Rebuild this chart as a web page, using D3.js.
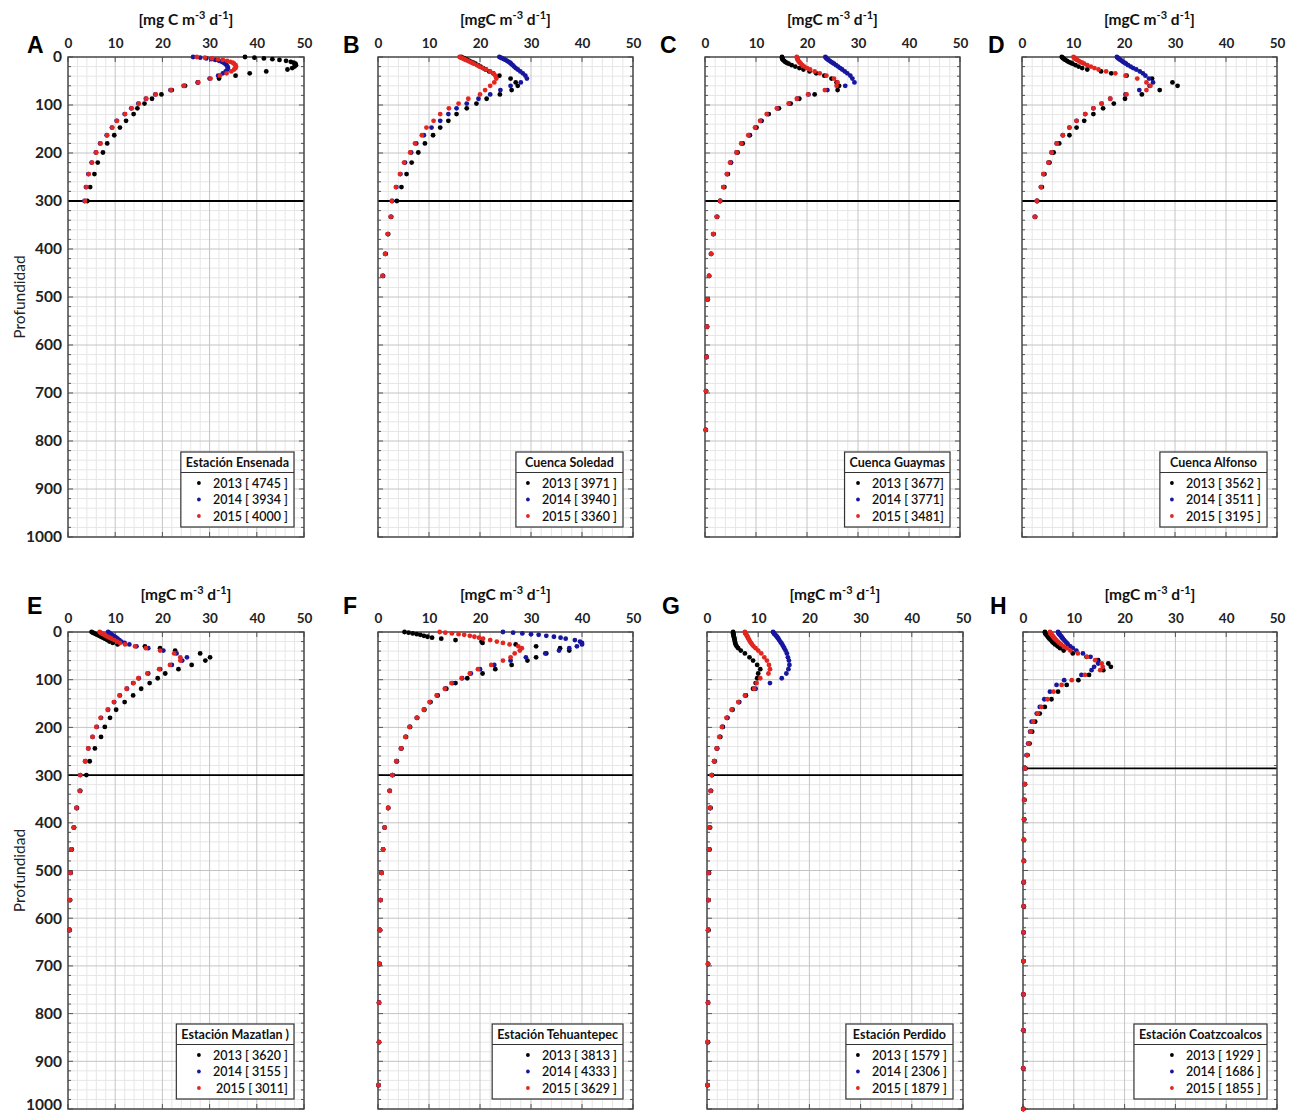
<!DOCTYPE html>
<html><head><meta charset="utf-8">
<script src="https://cdn.jsdelivr.net/npm/d3@7"></script>
<style>
body{margin:0;background:#fff;}
svg{display:block;font-family:Lato,"Open Sans",sans-serif;}
</style>
</head><body>
<svg id="chart" width="1292" height="1115"></svg>
<script>
// ---------------- DATA ----------------
const depthLevels = [0,1.5,3,4.5,6,8,10,12,14,17,20,23,26,30,34,39,45,53,60,69,78,87,97,107,119,133,147,163,180,199,220,244,271,300,333,369,410,456,505,562,625,696,777,860,950];
const depthLevelsH = [0,1.5,3,4.5,6,8,10,12,14,17,20,23,26,30,34,39,45,52,59,66,73,80,90,101,111,125,141,157,171,188,209,234,258,286,319,352,393,436,480,525,575,630,690,760,835,915,1000];

const A_2013 = [37.5,39.5,41.5,43.3,44.8,46.2,47.2,47.8,48.2,48.3,48.0,47.5,46.5,42.0,38.5,35.5,32.0,27.5,24.8,22.0,19.8,17.8,16.2,14.7,13.9,12.3,11.0,9.8,8.3,7.4,6.3,5.6,4.7,4.1];
const A_2014 = [26.5,28.0,29.3,30.4,31.2,32.0,32.6,33.0,33.3,33.6,33.8,33.9,33.8,33.4,32.8,31.8,30.0,27.5,24.5,21.7,18.5,16.5,14.9,13.4,12.0,10.3,9.3,8.2,6.8,5.9,5.0,4.3,3.8,3.5];
const A_2015 = [27.3,29.0,30.5,31.8,32.8,33.7,34.4,34.9,35.2,35.5,35.6,35.5,35.2,34.6,33.6,32.2,30.2,27.6,24.6,21.8,18.6,16.6,15.0,13.5,12.1,10.4,9.4,8.3,6.9,6.0,5.1,4.4,3.9,3.6];

const B_2013 = [16.3,16.6,16.9,17.2,17.5,17.9,18.3,18.7,19.1,19.6,20.1,20.6,21.1,21.8,22.6,23.8,26.0,27.0,27.4,26.2,23.9,21.3,19.3,17.4,15.4,13.8,12.2,10.8,9.2,7.9,6.6,5.6,4.6,3.7,2.6,2.0,1.5,1.0];
const B_2014 = [23.8,24.1,24.4,24.7,25.0,25.3,25.6,25.9,26.1,26.4,26.7,27.0,27.4,27.9,28.4,28.9,29.2,28.0,26.0,24.0,22.0,19.7,17.4,15.4,13.8,12.2,10.5,9.0,7.5,6.5,5.3,4.4,3.6,2.8,2.5,1.9,1.4,0.9];
const B_2015 = [16.0,16.3,16.6,16.9,17.2,17.6,18.0,18.4,18.8,19.4,19.9,20.5,21.2,22.0,22.6,23.0,23.2,22.8,22.0,21.0,20.0,17.7,15.8,13.9,12.2,10.9,9.5,8.6,7.25,6.3,5.1,4.3,3.5,2.7,2.5,1.9,1.4,0.9];

const C_2013 = [15.1,15.1,15.15,15.2,15.3,15.5,15.7,16.0,16.4,17.0,17.7,18.5,19.3,20.5,21.8,23.4,24.8,25.8,26.3,26.0,21.5,18.5,16.8,14.5,12.5,11.1,10.1,8.8,7.4,6.4,5.1,4.5,3.8,3.0,2.4,1.7,1.2,0.8,0.55,0.4,0.3,0.2,0.15];
const C_2014 = [23.6,23.7,23.85,24.0,24.2,24.45,24.7,25.0,25.3,25.7,26.1,26.5,26.9,27.4,27.9,28.5,28.9,29.3,27.5,24.0,20.3,18.1,16.5,14.2,12.2,10.9,9.9,8.6,7.2,6.2,5.0,4.3,3.6,2.95,2.3,1.6,1.2,0.8,0.5,0.4,0.3,0.2,0.15];
const C_2015 = [18.0,18.05,18.1,18.15,18.2,18.3,18.45,18.6,18.8,19.1,19.5,20.0,20.6,21.5,22.5,23.8,25.3,26.0,25.8,23.5,20.2,18.0,16.4,14.1,12.1,10.8,9.8,8.5,7.1,6.2,4.9,4.3,3.6,2.95,2.3,1.6,1.2,0.8,0.5,0.4,0.3,0.2,0.15];

const D_2013 = [7.8,7.95,8.1,8.3,8.5,8.8,9.1,9.5,9.9,10.5,11.1,11.8,12.8,15.5,17.5,20.5,25.5,29.5,30.5,27.0,23.5,20.2,18.0,15.9,14.0,12.2,10.7,9.3,7.3,6.2,5.4,4.4,3.9,3.0,2.6];
const D_2014 = [18.6,18.75,18.9,19.1,19.3,19.55,19.8,20.1,20.4,20.8,21.3,21.8,22.4,23.1,23.7,24.2,24.9,25.7,25.0,23.0,20.3,17.3,15.6,14.0,12.4,10.7,9.3,8.0,6.8,5.8,5.2,4.2,3.7,2.9,2.5];
const D_2015 = [10.1,10.25,10.4,10.6,10.8,11.1,11.4,11.8,12.2,12.8,13.5,14.2,15.0,16.5,18.3,20.3,22.6,24.4,25.2,24.4,20.5,17.3,15.6,14.0,12.4,10.7,9.3,8.0,6.8,5.8,5.2,4.2,3.7,2.9,2.5];

const E_2013 = [5.0,5.3,5.6,5.9,6.2,6.6,7.0,7.4,7.8,8.3,8.8,9.5,10.5,16.3,19.5,22.7,28.0,30.1,29.1,26.2,23.4,20.6,19.0,17.3,15.5,13.8,12.0,10.2,8.9,7.8,7.0,5.7,4.6,3.9,2.6,1.9,1.3,0.8,0.55,0.45,0.35];
const E_2014 = [8.5,8.7,8.9,9.1,9.3,9.6,9.9,10.2,10.5,10.9,11.3,12.0,13.0,14.5,17.0,20.2,23.0,25.2,24.2,22.0,19.5,17.0,15.0,13.8,12.5,11.0,9.8,8.5,7.0,6.1,5.2,4.3,3.7,2.6,2.5,1.8,1.2,0.7,0.5,0.4,0.3];
const E_2015 = [6.7,6.9,7.1,7.4,7.7,8.0,8.4,8.8,9.2,9.8,10.4,11.0,12.1,14.2,16.5,19.5,22.5,23.8,23.8,21.6,19.3,16.8,14.9,13.9,12.4,10.9,9.7,8.4,6.9,6.0,5.2,4.3,3.6,2.6,2.5,1.8,1.2,0.7,0.5,0.4,0.3];

const F_2013 = [5.2,6.0,6.8,7.6,8.3,9.0,9.7,10.6,12.4,15.2,20.3,20.5,27.0,31.0,35.7,37.5,33.0,31.0,29.3,26.2,23.0,20.5,17.5,15.2,13.4,11.7,10.3,9.1,7.7,6.3,5.5,4.6,3.7,2.9,2.3,2.0,1.3,1.0,0.7,0.5,0.4,0.3,0.2,0.2,0.1];
const F_2014 = [24.5,26.5,28.3,30.0,31.5,33.0,34.5,35.8,36.8,38.6,39.6,40.0,40.0,39.0,37.5,35.5,32.8,29.0,26.0,22.8,20.0,18.2,16.5,14.6,13.2,11.6,10.2,9.0,7.6,6.2,5.4,4.5,3.6,2.8,2.3,2.0,1.3,1.0,0.7,0.5,0.4,0.3,0.2,0.2,0.1];
const F_2015 = [12.1,13.2,14.5,15.8,16.9,18.0,18.9,19.8,20.6,22.0,23.3,24.5,25.8,27.5,28.2,27.8,26.8,26.0,24.5,22.2,19.6,18.0,16.4,14.4,13.1,11.5,10.1,9.0,7.6,6.2,5.4,4.5,3.6,2.8,2.3,2.0,1.3,1.0,0.7,0.5,0.4,0.3,0.2,0.2,0.1];

const G_2013 = [5.1,5.1,5.1,5.15,5.2,5.2,5.25,5.3,5.35,5.4,5.45,5.5,5.6,5.8,6.1,6.6,7.4,8.3,9.0,9.8,10.4,10.0,9.8,9.5,9.0,7.6,6.3,5.0,4.0,3.1,2.6,2.0,1.5,1.0,0.8,0.7,0.6,0.5,0.4,0.3,0.3,0.2,0.2,0.2,0.1];
const G_2014 = [12.9,13.0,13.1,13.2,13.35,13.5,13.65,13.8,13.95,14.1,14.3,14.5,14.7,14.9,15.1,15.35,15.6,15.8,16.0,16.1,15.9,15.5,14.6,12.3,9.5,7.5,6.2,4.9,3.9,3.0,2.5,1.9,1.4,0.9,0.7,0.6,0.5,0.4,0.3,0.3,0.2,0.2,0.2,0.1,0.1];
const G_2015 = [7.4,7.45,7.5,7.6,7.7,7.8,7.9,8.0,8.1,8.25,8.4,8.6,8.8,9.1,9.5,10.0,10.6,11.2,11.7,12.1,12.3,12.0,10.4,9.7,9.2,7.4,6.1,4.8,3.8,2.9,2.4,1.9,1.4,0.9,0.7,0.6,0.5,0.4,0.3,0.3,0.2,0.2,0.2,0.1,0.1];

const H_2013 = [4.3,4.35,4.4,4.5,4.6,4.75,4.9,5.05,5.2,5.45,5.7,6.0,6.3,6.8,7.3,8.0,9.8,12.5,14.8,16.8,17.3,15.8,13.0,10.9,8.6,6.9,5.6,4.3,3.3,2.4,1.8,1.3,0.9,0.5,0.4,0.3,0.25,0.2,0.2,0.15,0.15,0.1,0.1,0.1,0.1,0.05,0.05];
const H_2014 = [6.9,6.95,7.05,7.15,7.25,7.4,7.55,7.7,7.85,8.1,8.35,8.6,8.85,9.3,9.8,10.5,11.8,13.3,14.5,14.8,14.0,13.5,11.5,8.1,6.6,5.3,4.2,3.3,2.7,1.7,1.4,1.0,0.7,0.3,0.3,0.2,0.2,0.15,0.15,0.1,0.1,0.1,0.1,0.05,0.05,0.05,0.05];
const H_2015 = [5.3,5.35,5.45,5.55,5.65,5.8,5.95,6.1,6.3,6.55,6.85,7.15,7.5,8.0,8.6,9.3,10.8,12.6,14.2,15.5,15.7,15.2,12.2,9.6,7.6,6.0,4.8,3.6,2.9,2.0,1.5,1.1,0.8,0.4,0.35,0.25,0.2,0.2,0.15,0.15,0.1,0.1,0.1,0.1,0.05,0.05,0.05];

const panelLetters = ["A","B","C","D","E","F","G","H"];
const stationTitles = ["Estación Ensenada","Cuenca Soledad","Cuenca Guaymas","Cuenca Alfonso","Estación Mazatlan )","Estación Tehuantepec","Estación Perdido","Estación Coatzcoalcos"];
const years = ["2013","2014","2015"];
const counts2013 = ["[ 4745 ]","[ 3971 ]","[ 3677]","[ 3562 ]","[ 3620 ]","[ 3813 ]","[ 1579 ]","[ 1929 ]"];
const counts2014 = ["[ 3934 ]","[ 3940 ]","[ 3771]","[ 3511 ]","[ 3155 ]","[ 4333 ]","[ 2306 ]","[ 1686 ]"];
const counts2015 = ["[ 4000 ]","[ 3360 ]","[ 3481]","[ 3195 ]","[ 3011]","[ 3629 ]","[ 1879 ]","[ 1855 ]"];
const unitPrefix = ["[mg C m","[mgC m","[mgC m","[mgC m","[mgC m","[mgC m","[mgC m","[mgC m"];
const refLineDepth = [300,300,300,300,300,300,300,286];
const xTicks = [0,10,20,30,40,50];
const yTicks = [0,100,200,300,400,500,600,700,800,900,1000];
const yAxisLabel = "Profundidad";

// ---------------- LAYOUT ----------------
const yearColors = ["#000000","#16169e","#e3261f"];
const layout = [
  {left:68, right:304, top:57, bottom:537, lx:27, ly:53, yAxis:true},
  {left:378, right:633, top:57, bottom:537, lx:343, ly:53},
  {left:705, right:960, top:57, bottom:537, lx:660, ly:53},
  {left:1022, right:1277, top:57, bottom:537, lx:988, ly:53},
  {left:68, right:304, top:632, bottom:1109, lx:27, ly:614, yAxis:true, lastUp:true},
  {left:378, right:633, top:632, bottom:1109, lx:343, ly:614},
  {left:707, right:963, top:632, bottom:1109, lx:662, ly:614},
  {left:1023, right:1277, top:632, bottom:1109, lx:990, ly:614}
];
const seriesByPanel = [
  [A_2013,A_2014,A_2015],[B_2013,B_2014,B_2015],[C_2013,C_2014,C_2015],[D_2013,D_2014,D_2015],
  [E_2013,E_2014,E_2015],[F_2013,F_2014,F_2015],[G_2013,G_2014,G_2015],[H_2013,H_2014,H_2015]
];
const depthsByPanel = [depthLevels,depthLevels,depthLevels,depthLevels,depthLevels,depthLevels,depthLevels,depthLevelsH];
const countsByYear = [counts2013,counts2014,counts2015];

const svg = d3.select("#chart");

layout.forEach((p,i)=>{
  const x = d3.scaleLinear().domain([0,50]).range([p.left,p.right]);
  const y = d3.scaleLinear().domain([0,1000]).range([p.top,p.bottom]);
  const g = svg.append("g");

  // grid: minor then major
  const grid = g.append("g");
  grid.selectAll("line.vmin").data(d3.range(0,51,2).filter(d=>d%10!==0)).join("line")
    .attr("x1",d=>x(d)).attr("x2",d=>x(d)).attr("y1",p.top).attr("y2",p.bottom)
    .attr("stroke","#e6e6e6").attr("stroke-width",1);
  grid.selectAll("line.hmin").data(d3.range(0,1001,20).filter(d=>d%100!==0)).join("line")
    .attr("y1",d=>y(d)).attr("y2",d=>y(d)).attr("x1",p.left).attr("x2",p.right)
    .attr("stroke","#e6e6e6").attr("stroke-width",1);
  grid.selectAll("line.vmaj").data(xTicks).join("line")
    .attr("x1",d=>x(d)).attr("x2",d=>x(d)).attr("y1",p.top).attr("y2",p.bottom)
    .attr("stroke","#c4c4c4").attr("stroke-width",1);
  grid.selectAll("line.hmaj").data(yTicks).join("line")
    .attr("y1",d=>y(d)).attr("y2",d=>y(d)).attr("x1",p.left).attr("x2",p.right)
    .attr("stroke","#c4c4c4").attr("stroke-width",1);

  // inner ticks
  const tk = g.append("g").attr("stroke","#555").attr("stroke-width",1);
  d3.range(0,1001,20).forEach(d=>{
    const L = d%100===0?5:3;
    tk.append("line").attr("x1",p.left).attr("x2",p.left+L).attr("y1",y(d)).attr("y2",y(d));
    tk.append("line").attr("x1",p.right).attr("x2",p.right-L).attr("y1",y(d)).attr("y2",y(d));
  });
  xTicks.forEach(d=>{
    tk.append("line").attr("x1",x(d)).attr("x2",x(d)).attr("y1",p.top).attr("y2",p.top+5);
    tk.append("line").attr("x1",x(d)).attr("x2",x(d)).attr("y1",p.bottom).attr("y2",p.bottom-5);
  });

  // reference line
  g.append("line").attr("x1",p.left).attr("x2",p.right)
    .attr("y1",y(refLineDepth[i])).attr("y2",y(refLineDepth[i]))
    .attr("stroke","#000").attr("stroke-width",1.8);

  // frame
  g.append("rect").attr("x",p.left).attr("y",p.top).attr("width",p.right-p.left).attr("height",p.bottom-p.top)
    .attr("fill","none").attr("stroke","#444").attr("stroke-width",1.4);

  // points
  const depths = depthsByPanel[i];
  seriesByPanel[i].forEach((vals,k)=>{
    g.append("g").selectAll("circle").data(vals.map((v,j)=>({v:v,d:depths[j]}))).join("circle")
      .attr("cx",d=>x(d.v)).attr("cy",d=>y(d.d)).attr("r",2.4).attr("fill",yearColors[k]);
  });

  // top axis
  const ax = g.append("g").attr("transform",`translate(0,${p.top})`)
    .call(d3.axisTop(x).tickValues(xTicks).tickSize(0).tickPadding(9));
  ax.select(".domain").remove();
  ax.selectAll("text").attr("font-size",13.5).attr("font-weight","bold").attr("fill","#222")
    .attr("font-family","Lato, 'Open Sans', sans-serif");

  if(p.yAxis){
    const ay = g.append("g").attr("transform",`translate(${p.left},0)`)
      .call(d3.axisLeft(y).tickValues(yTicks).tickFormat(d3.format("d")).tickSize(0).tickPadding(6));
    ay.select(".domain").remove();
    ay.selectAll("text").attr("font-size",15.5).attr("font-weight","bold").attr("fill","#222")
      .attr("font-family","Lato, 'Open Sans', sans-serif");
    if(p.lastUp){
      ay.selectAll(".tick").filter(d=>d===1000).select("text").attr("dy","0.05em");
    }
    g.append("text").attr("transform",`translate(19,${(p.top+p.bottom)/2}) rotate(-90)`)
      .attr("text-anchor","middle").attr("dominant-baseline","central")
      .attr("font-size",15.5).attr("fill","#222").text(yAxisLabel);
  }

  // axis title
  const tt = g.append("text").attr("x",(p.left+p.right)/2).attr("y",p.top-32)
    .attr("text-anchor","middle").attr("font-size",15.5).attr("font-weight","bold").attr("fill","#111");
  tt.append("tspan").text(unitPrefix[i]);
  tt.append("tspan").attr("dy",-6).attr("font-size",11).text("-3");
  tt.append("tspan").attr("dy",6).text(" d");
  tt.append("tspan").attr("dy",-6).attr("font-size",11).text("-1");
  tt.append("tspan").attr("dy",6).text("]");

  // panel letter
  g.append("text").attr("x",p.lx).attr("y",p.ly).attr("font-size",23).attr("font-weight","bold")
    .attr("font-family","Arial, 'Liberation Sans', sans-serif").attr("fill","#000").text(panelLetters[i]);

  // legend
  const lg = g.append("g");
  const box = lg.append("rect").attr("fill","#fff").attr("stroke","#333").attr("stroke-width",1.2);
  const title = lg.append("text").attr("font-size",12.5).attr("font-weight","bold").attr("fill","#111")
    .attr("text-anchor","middle").attr("dominant-baseline","central").text(stationTitles[i]);
  const entryTexts = years.map((yr,k)=> lg.append("text").attr("font-size",12.5).attr("font-weight","600")
    .attr("fill","#111").attr("text-anchor","end").attr("dominant-baseline","central")
    .text(`${yr} ${countsByYear[k][i]}`));
  const tW = title.node().getComputedTextLength();
  const eW = d3.max(entryTexts,t=>t.node().getComputedTextLength());
  const w = Math.max(tW + 10, eW + 32);
  const h = 75;
  const bx = p.right - 10 - w, by = p.bottom - 10 - h;
  box.attr("x",bx).attr("y",by).attr("width",w).attr("height",h);
  title.attr("x",bx + w/2).attr("y",by + 10.5);
  lg.append("line").attr("x1",bx).attr("x2",bx+w).attr("y1",by+20.5).attr("y2",by+20.5)
    .attr("stroke","#333").attr("stroke-width",1);
  entryTexts.forEach((t,k)=>{
    const cy = by + 31 + k*16.5;
    t.attr("x",bx + w - 6).attr("y",cy);
    lg.append("circle").attr("cx",bx + w - 6 - eW - 14).attr("cy",cy).attr("r",1.9).attr("fill",yearColors[k]);
  });
});
</script>
</body></html>
